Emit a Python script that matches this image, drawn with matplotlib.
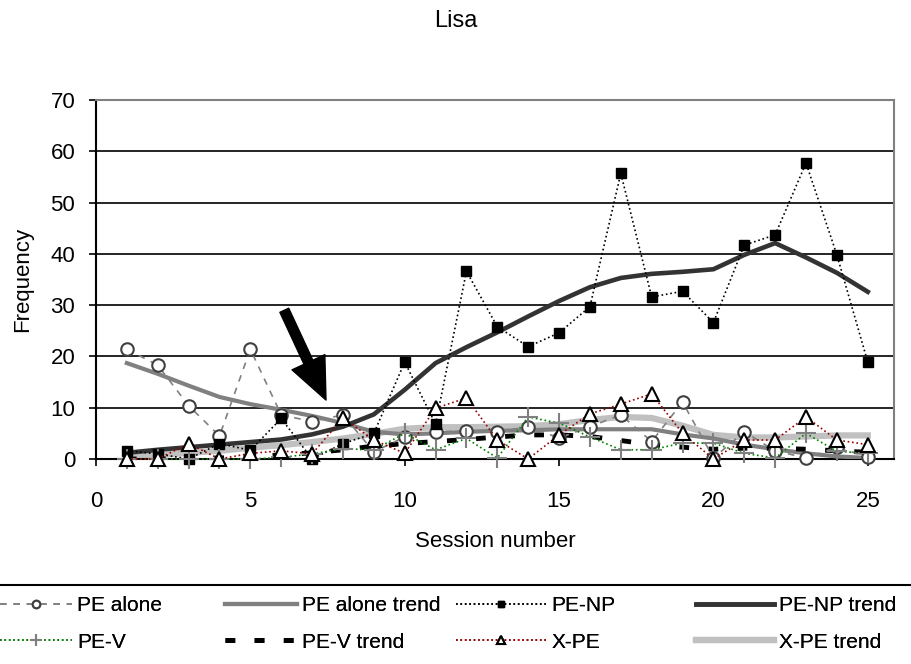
import matplotlib
matplotlib.use("Agg")
import matplotlib.pyplot as plt
from matplotlib import font_manager
from matplotlib.lines import Line2D

names = {f.name for f in font_manager.fontManager.ttflist}
fam = "Liberation Sans Narrow" if "Liberation Sans Narrow" in names else "Liberation Sans"
plt.rcParams["font.family"] = [fam, "DejaVu Sans"]

sessions = list(range(1, 26))

pe_alone = [21.4, 18.3, 10.4, 4.5, 21.4, 8.6, 7.3, 8.6, 1.4, 4.3, 5.3, 5.5, 5.3,
            6.3, 4.1, 6.3, 8.6, 3.4, 11.1, 0.2, 5.3, 1.6, 0.2, 2.3, 0.4]
pe_alone_trend = [18.7, 16.6, 14.3, 12.1, 10.7, 9.6, 8.4, 7.0, 5.3, 4.8, 5.0, 5.3, 5.5,
                  5.6, 5.8, 5.8, 5.8, 5.8, 4.8, 4.0, 2.8, 1.9, 1.1, 0.5, 0.2]
pe_np = [1.6, 1.0, 0.0, 3.0, 1.7, 7.9, 0.0, 3.0, 5.0, 18.9, 6.8, 36.6, 25.8,
         21.9, 24.6, 29.7, 55.7, 31.6, 32.7, 26.6, 41.7, 43.7, 57.7, 39.8, 18.9]
pe_np_trend = [1.2, 1.8, 2.3, 2.8, 3.3, 3.8, 4.8, 6.3, 8.7, 13.5, 18.7, 21.8, 24.7,
               27.8, 30.8, 33.5, 35.3, 36.1, 36.5, 37.0, 39.8, 42.1, 39.3, 36.3, 32.6]
pe_v = [0, 0, 0, 0, 0, 0.3, 1.0, 2.0, 1.8, 5.0, 1.8, 4.0, 0.2,
        8.2, 7.0, 4.3, 1.8, 1.8, 3.1, 3.1, 1.1, 0.2, 5.0, 1.5, 1.1]
pe_v_trend = [0, 0, 0.1, 0.2, 0.4, 0.8, 1.2, 1.8, 2.5, 3.0, 3.4, 3.8, 4.3,
              4.7, 4.7, 4.4, 3.6, 2.8, 2.3, 1.9, 2.1, 2.1, 1.9, 1.6, 1.3]
x_pe = [0, 0, 3.0, 0, 1.1, 1.6, 1.0, 8.0, 3.7, 1.1, 9.9, 11.9, 3.7,
        0, 4.7, 8.8, 10.7, 12.7, 5.0, 0, 3.7, 3.7, 8.2, 3.7, 2.8]
x_pe_trend = [0.4, 0.8, 1.2, 1.6, 2.2, 2.7, 3.3, 4.0, 4.9, 5.9, 6.2, 6.2, 6.3,
              6.4, 6.8, 7.6, 8.2, 8.0, 6.5, 4.7, 4.2, 4.2, 4.4, 4.6, 4.6]

fs = 16
fig = plt.figure(figsize=(9.11, 6.64), dpi=100)
ax = fig.add_axes([96/911, 205/664, 798/911, 359/664])

ax.plot(sessions, x_pe_trend, color="#c0c0c0", lw=4.5, zorder=2, label="X-PE trend")
ax.plot(sessions, pe_alone_trend, color="#808080", lw=3, zorder=3, label="PE alone trend")
ax.plot(sessions, pe_np_trend, color="#333333", lw=3.3, zorder=3, label="PE-NP trend")
ax.plot(sessions, pe_v_trend, color="black", lw=3.5, ls=(0, (2, 4)), zorder=3, label="PE-V trend")

ax.plot(sessions, pe_alone, color="#808080", lw=1.2, ls=(0, (4, 4)), marker="o", ms=9,
        mfc="white", mec="#404040", mew=1.5, zorder=4, clip_on=False, label="PE alone")
ax.plot(sessions, pe_np, color="black", lw=1.2, ls=":", marker="s", ms=7,
        mfc="black", mec="black", zorder=5, clip_on=False, label="PE-NP")
ax.plot(sessions, pe_v, color="#008000", lw=1.2, ls=":", marker="+", ms=15,
        mec="#808080", mew=1.5, zorder=5, clip_on=False, label="PE-V")
ax.plot(sessions, x_pe, color="#990000", lw=1.2, ls=":", marker="^", ms=10,
        mfc="white", mec="black", mew=1.5, zorder=6, clip_on=False, label="X-PE")

ax.annotate("", xy=(7.45, 11.5), xytext=(6.1, 29.0),
            arrowprops=dict(facecolor="black", edgecolor="black", width=7,
                            headwidth=26, headlength=30), zorder=7)

ax.set_xlim(0, 25.85)
ax.set_ylim(0, 70)
ax.set_xticks([0, 5, 10, 15, 20, 25])
ax.set_yticks(range(0, 80, 10))
ax.yaxis.grid(True, color="black", lw=1.2)
ax.set_axisbelow(True)
ax.tick_params(labelsize=fs, direction="out", length=5, width=1.2)
ax.tick_params(axis="x", pad=18)
ax.tick_params(axis="y", pad=10)
for s in ["left", "bottom"]:
    ax.spines[s].set_color("black")
    ax.spines[s].set_linewidth(1.5)
for s in ["top", "right"]:
    ax.spines[s].set_color("#808080")
    ax.spines[s].set_linewidth(1.5)

ax.set_xlabel("Session number", fontsize=fs, labelpad=14)
ax.set_ylabel("Frequency", fontsize=fs, labelpad=12)
fig.text(0.5, 1 - 21/664, "Lisa", fontsize=fs + 1, ha="center", va="center")

# legend box top line
fig.add_artist(Line2D([0, 1], [1 - 585/664, 1 - 585/664], color="black", lw=1.5,
                      transform=fig.transFigure))

lfs = 15
lines = {l.get_label(): l for l in ax.get_lines()}
cols = [(["PE alone", "PE-V"], 0, 4.0),
        (["PE alone trend", "PE-V trend"], 225, 4.0),
        (["PE-NP", "X-PE"], 456, 5.0),
        (["PE-NP trend", "X-PE trend"], 696, 4.3)]
for labels, x0, hl in cols:
    leg = fig.legend([lines[k] for k in labels], labels, loc="upper left",
                     bbox_to_anchor=(x0/911, 1 - 596/664), frameon=False,
                     fontsize=lfs, handlelength=hl * 13 / lfs, handletextpad=0.25,
                     labelspacing=0.85, borderpad=0, borderaxespad=0, markerscale=0.6)
    fig.add_artist(leg)

fig.savefig("out.png", dpi=100)
